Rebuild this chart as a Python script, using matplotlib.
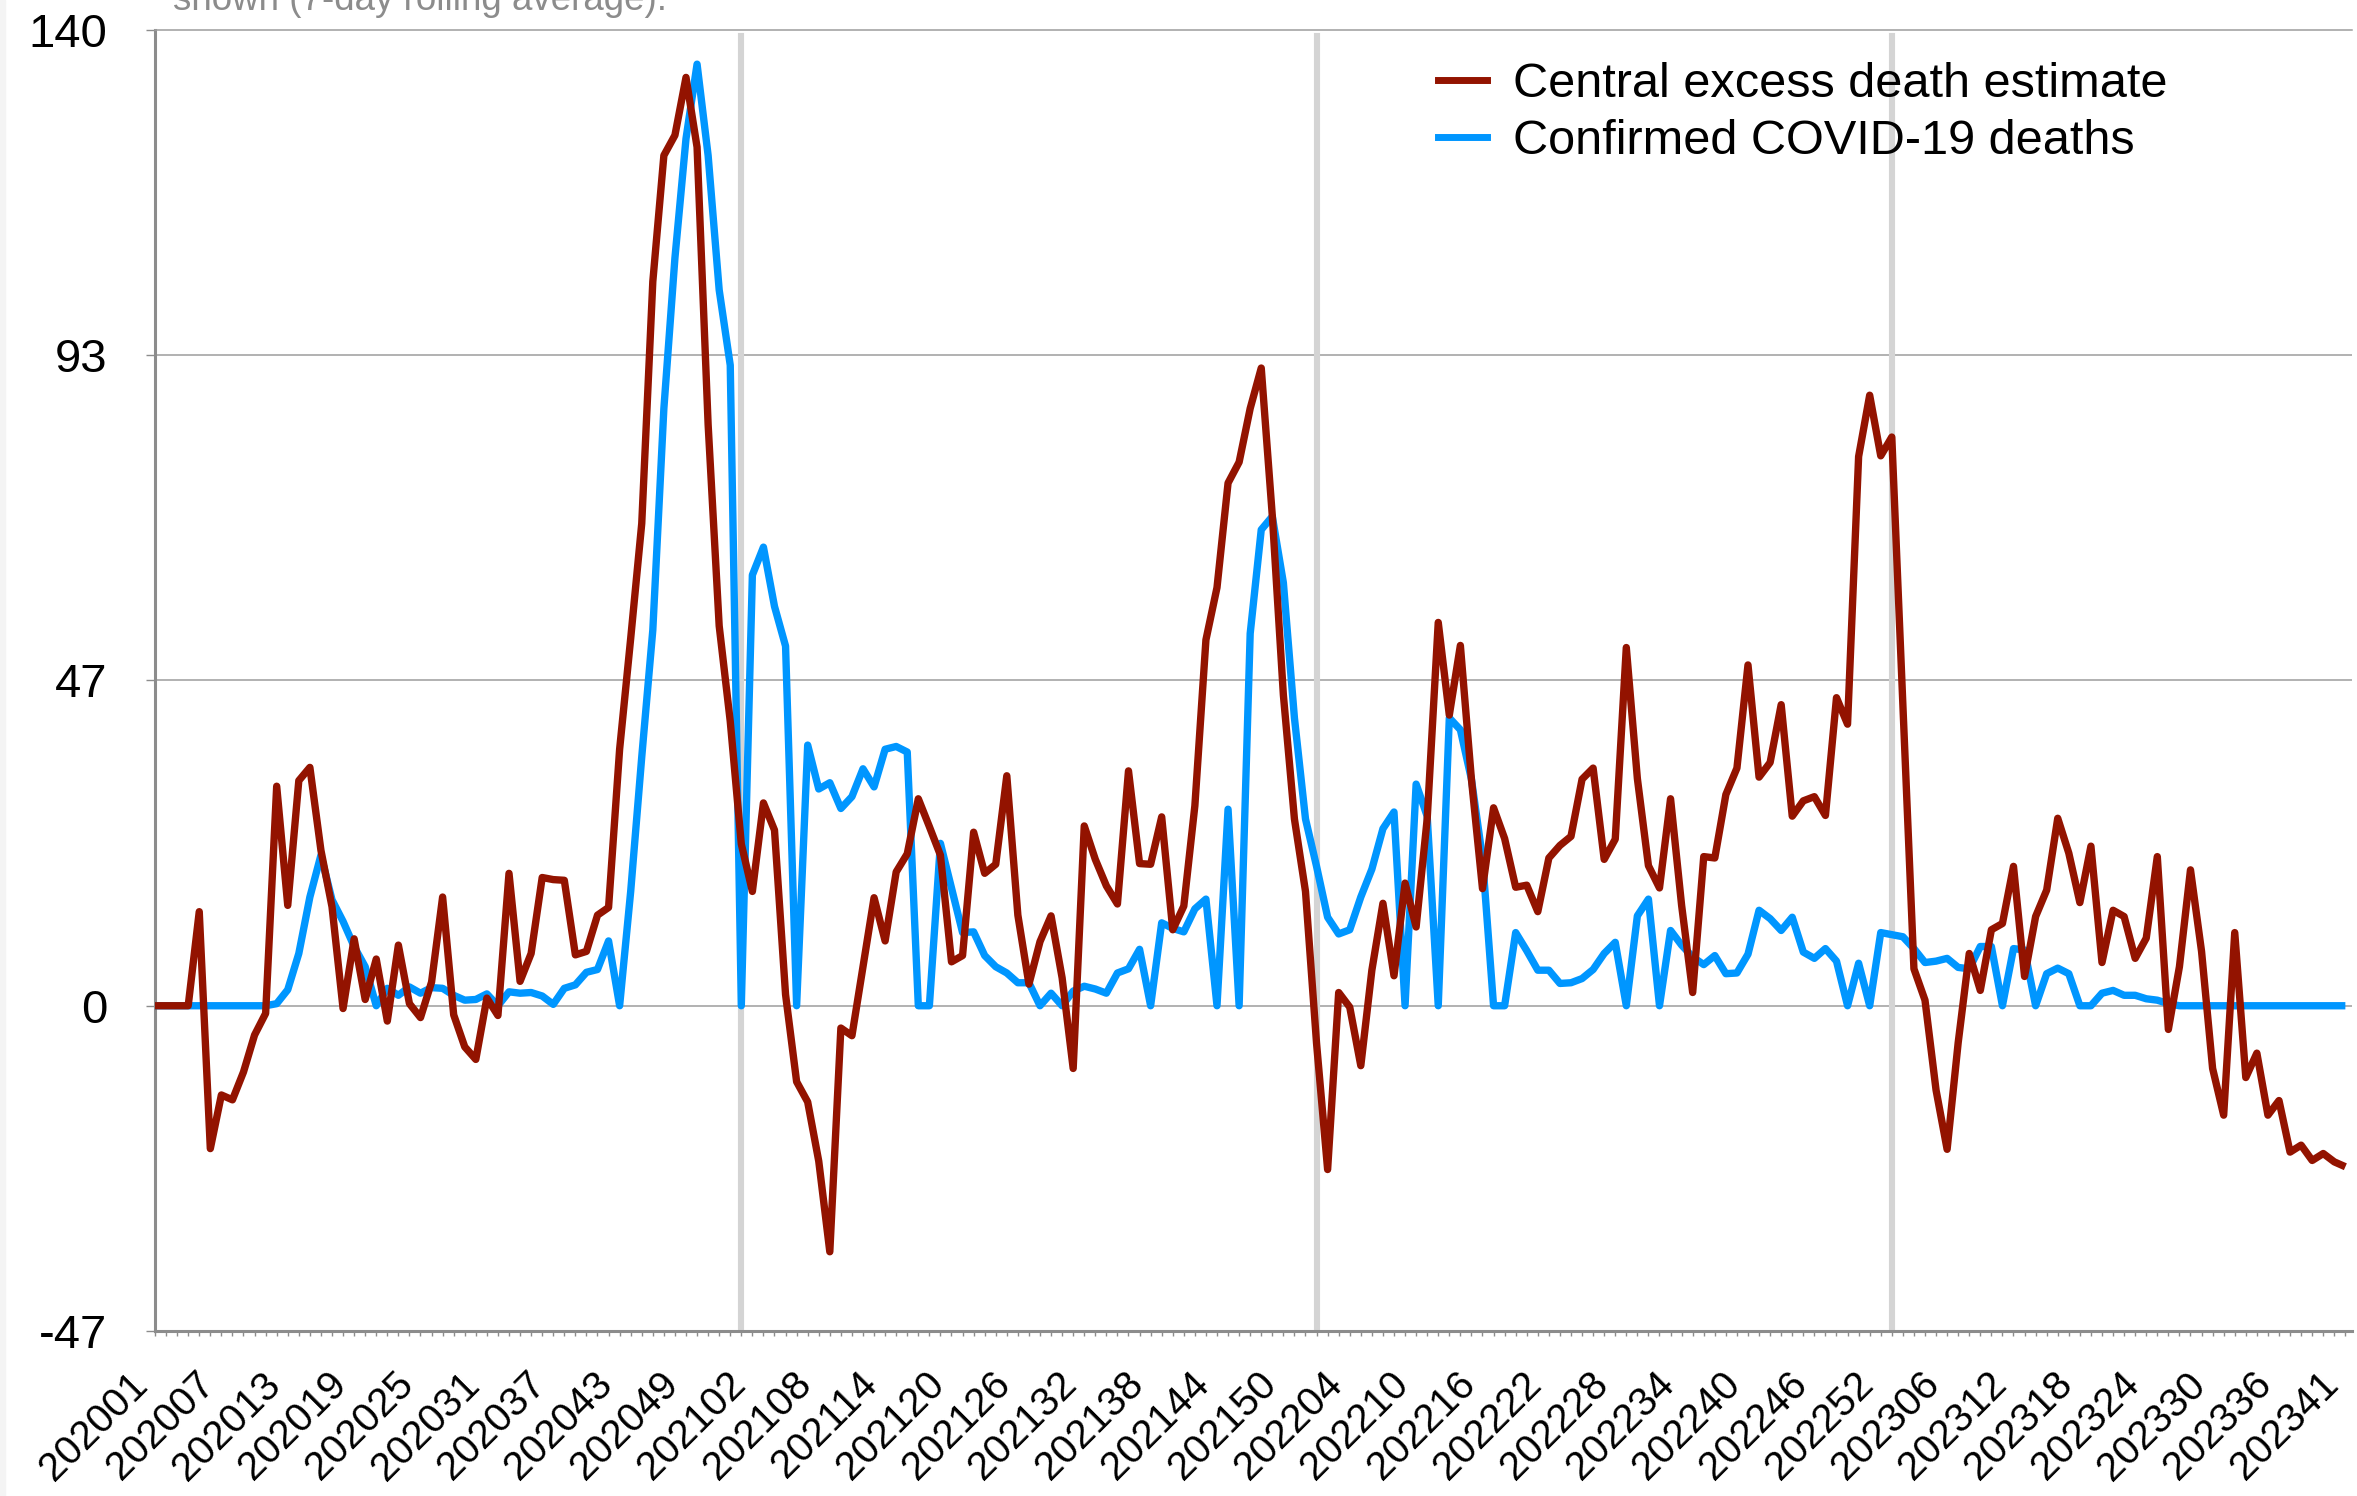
import matplotlib
matplotlib.use('Agg')
import matplotlib.pyplot as plt
from matplotlib.lines import Line2D
from matplotlib.patches import Rectangle
import numpy as np

plt.rcParams['font.family'] = ['Liberation Sans', 'DejaVu Sans']

excess = [
    0, 0, 0, 0, 13.5, -20.5, -12.8, -13.5, -9.5, -4.2,
    -1.1, 31.5, 14.4, 32.3, 34.2, 22.3, 14.2, -0.4, 9.6, 0.9,
    6.7, -2.2, 8.7, 0.3, -1.7, 3.4, 15.6, -1.3, -5.9, -7.7,
    1.1, -1.4, 19.0, 3.5, 7.5, 18.4, 18.1, 18.0, 7.3, 7.8,
    13.0, 14.1, 36.8, 52.7, 69.2, 103.9, 122.0, 124.9, 133.2, 123.2,
    83.4, 54.5, 40.8, 23.2, 16.4, 29.1, 25.2, 1.6, -10.9, -13.8,
    -22.3, -35.3, -3.2, -4.3, 5.6, 15.5, 9.3, 19.2, 21.8, 29.7,
    25.7, 21.6, 6.3, 7.2, 24.9, 19.0, 20.3, 33.0, 13.0, 3.1,
    9.2, 12.9, 4.0, -9.0, 25.8, 21.0, 17.2, 14.6, 33.7, 20.4,
    20.3, 27.1, 10.9, 14.3, 28.7, 52.5, 60.0, 75.0, 78.0, 85.7,
    91.5, 70.3, 44.6, 26.8, 16.4, -5.4, -23.5, 1.9, -0.2, -8.6,
    5.1, 14.7, 4.3, 17.6, 11.3, 26.8, 55.0, 41.7, 51.7, 32.5,
    16.8, 28.4, 24.0, 17.0, 17.3, 13.5, 21.2, 23.0, 24.3, 32.5,
    34.1, 21.0, 23.9, 51.4, 32.6, 20.1, 16.9, 29.7, 14.4, 1.9,
    21.4, 21.2, 30.3, 34.1, 48.9, 32.8, 34.9, 43.2, 27.2, 29.4,
    30.0, 27.3, 44.2, 40.4, 78.8, 87.6, 78.9, 81.6, 43.2, 5.3,
    0.8, -12.1, -20.6, -5.3, 7.5, 2.2, 10.9, 11.8, 20.0, 4.2,
    12.8, 16.6, 26.9, 21.9, 14.8, 22.9, 6.2, 13.7, 12.8, 6.8,
    9.7, 21.4, -3.4, 5.6, 19.5, 7.8, -9.0, -15.7, 10.5, -10.3,
    -6.8, -15.7, -13.6, -21.0, -20.0, -22.2, -21.2, -22.4, -23.1,
]

confirmed = [
    0, 0, 0, 0, 0, 0, 0, 0, 0, 0,
    0, 0.3, 2.3, 7.5, 15.6, 21.6, 15.2, 12.1, 8.5, 5.6,
    0, 2.5, 1.5, 2.7, 1.8, 2.6, 2.5, 1.5, 0.8, 0.9,
    1.7, 0, 2.0, 1.8, 1.9, 1.4, 0.2, 2.5, 3.0, 4.8,
    5.2, 9.3, 0, 16.4, 35.7, 53.9, 85.7, 107.3, 124.4, 135.1,
    122.0, 102.7, 91.9, 0, 61.8, 65.8, 57.3, 51.6, 0, 37.4,
    31.1, 32.0, 28.3, 30.0, 34.0, 31.4, 36.8, 37.2, 36.4, 0,
    0, 23.3, 16.9, 10.5, 10.6, 7.2, 5.6, 4.7, 3.3, 3.3,
    0, 1.8, 0, 2.1, 2.8, 2.4, 1.8, 4.7, 5.3, 8.1,
    0, 11.9, 11.1, 10.6, 13.9, 15.3, 0, 28.2, 0, 53.4,
    68.3, 70.2, 60.7, 41.3, 26.8, 20.0, 12.7, 10.3, 10.9, 15.6,
    19.6, 25.4, 27.8, 0, 31.8, 27.2, 0, 41.3, 39.6, 32.5,
    21.2, 0, 0, 10.5, 7.9, 5.1, 5.1, 3.2, 3.3, 3.9,
    5.2, 7.5, 9.1, 0, 12.9, 15.3, 0, 10.8, 8.7, 7.0,
    5.9, 7.2, 4.6, 4.7, 7.4, 13.7, 12.5, 10.8, 12.7, 7.7,
    6.8, 8.2, 6.4, 0, 6.1, 0, 10.5, 10.2, 9.9, 8.2,
    6.2, 6.4, 6.8, 5.5, 5.3, 8.5, 8.5, 0, 8.2, 8.0,
    0, 4.6, 5.4, 4.6, 0, 0, 1.8, 2.2, 1.5, 1.5,
    1.0, 0.8, 0.3, 0, 0, 0, 0, 0, 0, 0,
    0, 0, 0, 0, 0, 0, 0, 0, 0,
]

tick_labels = [
    '202001', '202007', '202013', '202019', '202025', '202031', '202037', '202043', '202049',
    '202102', '202108', '202114', '202120', '202126', '202132', '202138', '202144', '202150',
    '202204', '202210', '202216', '202222', '202228', '202234', '202240', '202246', '202252',
    '202306', '202312', '202318', '202324', '202330', '202336', '202341',
]
tick_step = 6
y_ticks = [-140 / 3, 0, 140 / 3, 280 / 3, 140]
y_tick_labels = ['-47', '0', '47', '93', '140']
year_starts = [53, 105, 157]
series_names = ['Central excess death estimate', 'Confirmed COVID-19 deaths']

RED = '#931300'
BLUE = '#0096FF'
GRID = '#9d9d9d'
AXIS = '#8c8c8c'

W, H = 2357, 1496
fig = plt.figure(figsize=(W / 100, H / 100), dpi=100)
fig.patches.append(Rectangle((0, 0), 5 / W, 1, transform=fig.transFigure,
                             color='#f4f4f4', zorder=0))

x0, x1, yb, yt = 155, 2352, 1331, 30
ax = fig.add_axes([x0 / W, 1 - yb / H, (x1 - x0) / W, (yb - yt) / H])
n = len(excess)
x = np.arange(n)
ax.set_xlim(0, n - 1 + 0.6)
ax.set_ylim(y_ticks[0], y_ticks[-1])

for yv in y_ticks[1:-1]:
    ax.axhline(yv, color=GRID, lw=1.1, zorder=1)
for xs in year_starts:
    ax.axvline(xs, ymin=0, ymax=(yb - 36) / (yb - yt), color='#d4d4d4', lw=4.4, zorder=1.5)

ax.plot(x, confirmed, color=BLUE, lw=5.3, solid_joinstyle='round', solid_capstyle='butt', zorder=3)
ax.plot(x, excess, color=RED, lw=5.3, solid_joinstyle='round', solid_capstyle='butt', zorder=4)

ax.spines['right'].set_visible(False)
ax.spines['top'].set_color(GRID)
ax.spines['top'].set_linewidth(1.1)
ax.spines['left'].set_color(AXIS)
ax.spines['left'].set_linewidth(2.2)
ax.spines['bottom'].set_color(AXIS)
ax.spines['bottom'].set_linewidth(2.2)

ax.set_yticks(y_ticks)
ax.set_yticklabels(y_tick_labels)
ax.tick_params(axis='y', length=6.5, width=1, color=AXIS, pad=28, labelsize=34)

pos = [i * tick_step for i in range(len(tick_labels))]
ax.set_xticks(pos)
ax.set_xticklabels(tick_labels)
ax.set_xticks(np.arange(0, n), minor=True)
ax.tick_params(axis='x', which='both', length=3.5, width=1, color=AXIS)
ax.tick_params(axis='x', which='major', pad=21, labelsize=29)
for lab in ax.get_xticklabels():
    lab.set_rotation(45)
    lab.set_ha('right')
    lab.set_va('top')
    lab.set_rotation_mode('default')

handles = [Line2D([], [], color=RED, lw=5), Line2D([], [], color=BLUE, lw=5)]
fig.legend(handles, series_names, loc='upper left', bbox_to_anchor=(1438 / W, 1 - 62 / H),
           frameon=False, fontsize=35, handlelength=1.0, handletextpad=0.55,
           labelspacing=0.25, borderpad=0, borderaxespad=0)

fig.text(173 / W, 1 - 10 / H, 'shown (7-day rolling average).', fontsize=26.5,
         color='#8c8c8c', va='baseline', ha='left')

fig.savefig('out.png', dpi=100, facecolor='white')
